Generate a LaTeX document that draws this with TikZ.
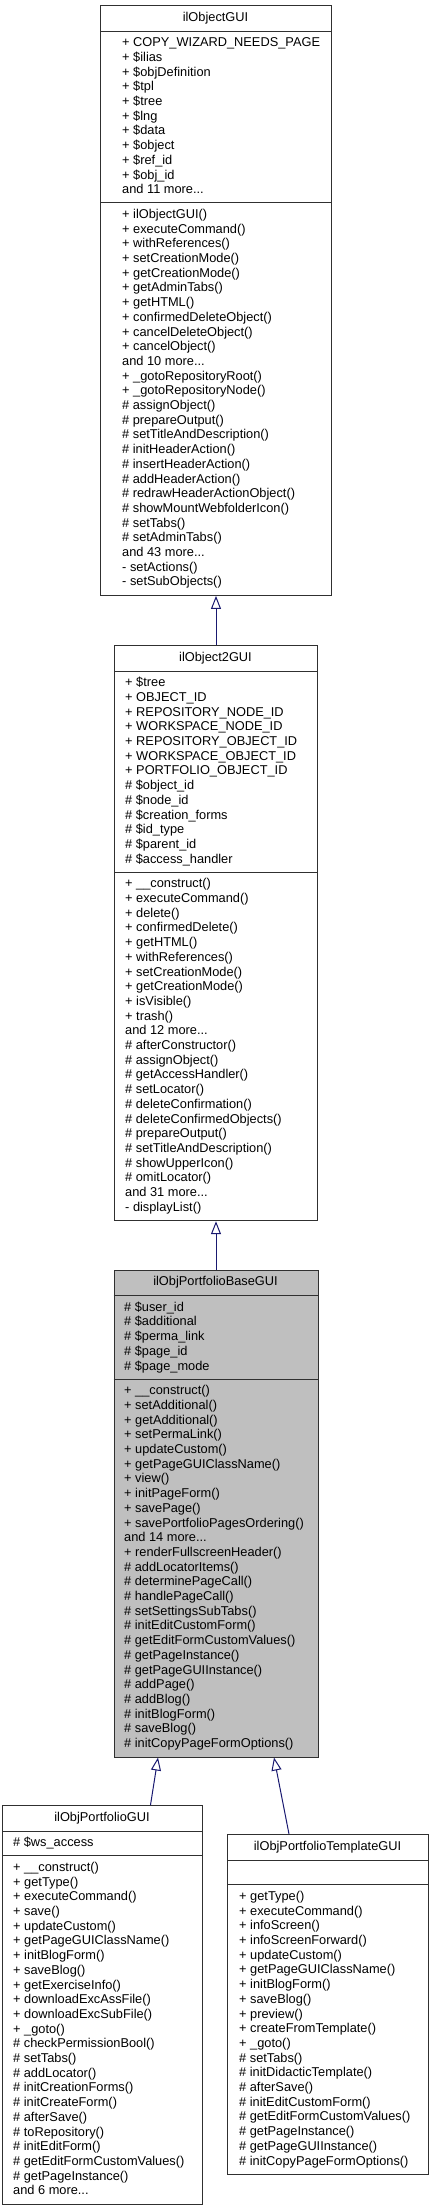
\documentclass[tikz,border=0pt]{standalone}
\usepackage{fontspec}
\setmainfont{Liberation Sans}
\usetikzlibrary{arrows.meta}
\definecolor{edgeblue}{HTML}{191970}
\definecolor{bordergray}{HTML}{303030}
\definecolor{basefill}{HTML}{BFBFBF}
\newcommand\mdots{.\kern0pt.\kern0pt.}
\newcommand\umllines[4]{%
  \foreach \lbl [count=\i] in {#4} {
    \node[ln] (#3\i) at (#1, {#2+5+(\i-0.5)*14.7}) {\lbl};
  }}
\tikzset{
  umlbox/.style={draw=bordergray, line width=1pt, fill=white, inner sep=0pt, anchor=north west},
  ln/.style={anchor=west, inner sep=0pt, font=\fontsize{12.8}{14.7}\selectfont, text height=9.3pt, text depth=2.6pt},
  ttl/.style={inner sep=0pt, font=\fontsize{12.8}{14.7}\selectfont, text height=9.3pt, text depth=2.6pt},
  sepline/.style={draw=bordergray, line width=1pt},
  inh/.style={draw=edgeblue, line width=1pt, -{Triangle[open, length=13pt, width=10pt]}},
}
\begin{document}
\begin{tikzpicture}[x=1pt, y=-1pt]
\useasboundingbox (0,0) rectangle (432,2209);

% ---------- ilObjectGUI ----------
\node[umlbox, minimum width=231pt, minimum height=589.9pt] (objgui) at (100,5) {};
\draw[sepline] (100,31) -- (331,31);
\draw[sepline] (100,202.7) -- (331,202.7);
\node[ttl] (objgui-t) at (215.5,18) {ilObjectGUI};
\umllines{122}{31}{objgui-a}{+ COPY\_WIZARD\_NEEDS\_PAGE, + \$ilias, + \$objDefinition, + \$tpl, + \$tree, + \$lng, + \$data, + \$object, + \$ref\_id, + \$obj\_id, and 11 more\mdots}
\umllines{122}{202.7}{objgui-m}{+ ilObjectGUI(), + executeCommand(), + withReferences(), + setCreationMode(), + getCreationMode(), + getAdminTabs(), + getHTML(), + confirmedDeleteObject(), + cancelDeleteObject(), + cancelObject(), and 10 more\mdots, + \_gotoRepositoryRoot(), + \_gotoRepositoryNode(), \# assignObject(), \# prepareOutput(), \# setTitleAndDescription(), \# initHeaderAction(), \# insertHeaderAction(), \# addHeaderAction(), \# redrawHeaderActionObject(), \# showMountWebfolderIcon(), \# setTabs(), \# setAdminTabs(), and 43 more\mdots, - setActions(), - setSubObjects()}

% ---------- ilObject2GUI ----------
\node[umlbox, minimum width=203pt, minimum height=575.2pt] (obj2gui) at (114,645) {};
\draw[sepline] (114,671) -- (317,671);
\draw[sepline] (114,872.1) -- (317,872.1);
\node[ttl] (obj2gui-t) at (215.5,658) {ilObject2GUI};
\umllines{125}{671}{obj2gui-a}{+ \$tree, + OBJECT\_ID, + REPOSITORY\_NODE\_ID, + WORKSPACE\_NODE\_ID, + REPOSITORY\_OBJECT\_ID, + WORKSPACE\_OBJECT\_ID, + PORTFOLIO\_OBJECT\_ID, \# \$object\_id, \# \$node\_id, \# \$creation\_forms, \# \$id\_type, \# \$parent\_id, \# \$access\_handler}
\umllines{125}{872.1}{obj2gui-m}{+ \_\_construct(), + executeCommand(), + delete(), + confirmedDelete(), + getHTML(), + withReferences(), + setCreationMode(), + getCreationMode(), + isVisible(), + trash(), and 12 more\mdots, \# afterConstructor(), \# assignObject(), \# getAccessHandler(), \# setLocator(), \# deleteConfirmation(), \# deleteConfirmedObjects(), \# prepareOutput(), \# setTitleAndDescription(), \# showUpperIcon(), \# omitLocator(), and 31 more\mdots, - displayList()}

% ---------- ilObjPortfolioBaseGUI ----------
\node[umlbox, fill=basefill, minimum width=204pt, minimum height=487pt] (base) at (113.5,1269.5) {};
\draw[sepline] (113.5,1295.5) -- (317.5,1295.5);
\draw[sepline] (113.5,1379) -- (317.5,1379);
\node[ttl] (base-t) at (215.5,1282.5) {ilObjPortfolioBaseGUI};
\umllines{124}{1295.5}{base-a}{\# \$user\_id, \# \$additional, \# \$perma\_link, \# \$page\_id, \# \$page\_mode}
\umllines{124}{1379}{base-m}{+ \_\_construct(), + setAdditional(), + getAdditional(), + setPermaLink(), + updateCustom(), + getPageGUIClassName(), + view(), + initPageForm(), + savePage(), + savePortfolioPagesOrdering(), and 14 more\mdots, + renderFullscreenHeader(), \# addLocatorItems(), \# determinePageCall(), \# handlePageCall(), \# setSettingsSubTabs(), \# initEditCustomForm(), \# getEditFormCustomValues(), \# getPageInstance(), \# getPageGUIInstance(), \# addPage(), \# addBlog(), \# initBlogForm(), \# saveBlog(), \# initCopyPageFormOptions()}

% ---------- ilObjPortfolioGUI ----------
\node[umlbox, minimum width=200pt, minimum height=398.8pt] (pf) at (2,1805) {};
\draw[sepline] (2,1831) -- (202,1831);
\draw[sepline] (2,1855.7) -- (202,1855.7);
\node[ttl] (pf-t) at (102,1818) {ilObjPortfolioGUI};
\umllines{13}{1831}{pf-a}{\# \$ws\_access}
\umllines{13}{1855.7}{pf-m}{+ \_\_construct(), + getType(), + executeCommand(), + save(), + updateCustom(), + getPageGUIClassName(), + initBlogForm(), + saveBlog(), + getExerciseInfo(), + downloadExcAssFile(), + downloadExcSubFile(), + \_goto(), \# checkPermissionBool(), \# setTabs(), \# addLocator(), \# initCreationForms(), \# initCreateForm(), \# afterSave(), \# toRepository(), \# initEditForm(), \# getEditFormCustomValues(), \# getPageInstance(), and 6 more\mdots}

% ---------- ilObjPortfolioTemplateGUI ----------
\node[umlbox, minimum width=201pt, minimum height=340pt] (tpl) at (227,1834) {};
\draw[sepline] (227,1860) -- (428,1860);
\draw[sepline] (227,1884.7) -- (428,1884.7);
\node[ttl] (tpl-t) at (327.5,1847) {ilObjPortfolioTemplateGUI};
\umllines{239}{1884.7}{tpl-m}{+ getType(), + executeCommand(), + infoScreen(), + infoScreenForward(), + updateCustom(), + getPageGUIClassName(), + initBlogForm(), + saveBlog(), + preview(), + createFromTemplate(), + \_goto(), \# setTabs(), \# initDidacticTemplate(), \# afterSave(), \# initEditCustomForm(), \# getEditFormCustomValues(), \# getPageInstance(), \# getPageGUIInstance(), \# initCopyPageFormOptions()}

% ---------- inheritance connectors ----------
\draw[inh] (obj2gui.north) -- (objgui.south);
\draw[inh] (base.north) -- (obj2gui.south);
\draw[inh] ([xshift=48pt]pf.north) -- ([xshift=-58pt]base.south);
\draw[inh] ([xshift=-39pt]tpl.north) -- ([xshift=58pt]base.south);
\end{tikzpicture}
\end{document}
